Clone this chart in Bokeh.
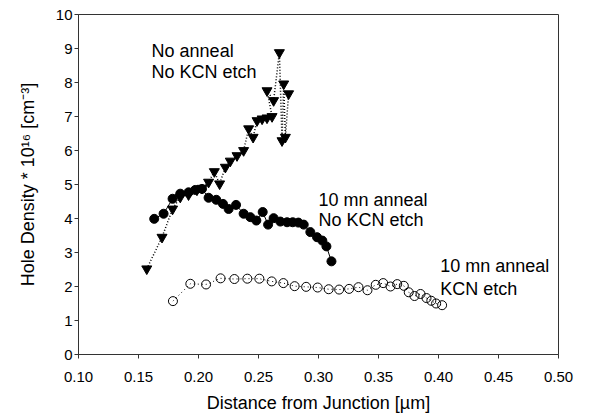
from bokeh.plotting import figure
from bokeh.models import FixedTicker, PrintfTickFormatter, ColumnDataSource
from bokeh.embed import file_html
from bokeh.resources import INLINE
from bokeh.core.properties import value

# "No anneal, No KCN etch" (filled inverted triangles, dotted line)
tri_x = [0.1569, 0.1696, 0.1784, 0.1848, 0.1917, 0.1987, 0.2029, 0.2084, 0.2132, 0.2176,
         0.2224, 0.2265, 0.2321, 0.2376, 0.2418, 0.2455, 0.2488, 0.2530, 0.2571, 0.2613,
         0.2571, 0.2626, 0.2674, 0.2696, 0.2710, 0.2724, 0.2751]
tri_y = [2.52, 3.45, 4.28, 4.63, 4.70, 4.84, 4.89, 5.07, 5.38, 5.02,
         5.51, 5.69, 5.85, 6.00, 6.64, 6.39, 6.88, 6.93, 6.96, 7.00,
         7.76, 7.47, 8.88, 6.29, 7.96, 6.39, 7.67]

# "10 mn anneal, No KCN etch" (filled circles, solid line)
fc_x = [0.1631, 0.1709, 0.1784, 0.1848, 0.1917, 0.1973, 0.2029, 0.2084, 0.2148, 0.2204,
        0.2251, 0.2313, 0.2376, 0.2432, 0.2482, 0.2535, 0.2580, 0.2626, 0.2682, 0.2738,
        0.2785, 0.2832, 0.2877, 0.2932, 0.2988, 0.3032, 0.3066, 0.3108]
fc_y = [3.99, 4.14, 4.58, 4.73, 4.77, 4.84, 4.87, 4.61, 4.55, 4.43,
        4.28, 4.40, 4.14, 4.04, 3.94, 4.19, 3.82, 4.01, 3.91, 3.89,
        3.89, 3.88, 3.82, 3.60, 3.45, 3.35, 3.18, 2.74]

# "10 mn anneal, KCN etch" (open circles, dotted line)
oc_x = [0.1787, 0.1932, 0.2063, 0.2184, 0.2299, 0.2407, 0.2507, 0.2610, 0.2707, 0.2801,
        0.2897, 0.2993, 0.3085, 0.3172, 0.3255, 0.3333, 0.3408, 0.3477, 0.3539, 0.3600,
        0.3656, 0.3711, 0.3752, 0.3800, 0.3850, 0.3900, 0.3940, 0.3980, 0.4030]
oc_y = [1.57, 2.08, 2.06, 2.24, 2.22, 2.23, 2.23, 2.15, 2.10, 2.01,
        1.99, 1.97, 1.92, 1.91, 1.93, 1.98, 1.89, 2.05, 2.10, 2.00,
        2.07, 2.02, 1.83, 1.72, 1.78, 1.66, 1.58, 1.50, 1.45]

x_ticks = [0.10, 0.15, 0.20, 0.25, 0.30, 0.35, 0.40, 0.45, 0.50]
y_ticks = [0, 1, 2, 3, 4, 5, 6, 7, 8, 9, 10]

label_text = ["No anneal", "No KCN etch", "10 mn anneal", "No KCN etch", "10 mn anneal", "KCN etch"]
label_x = [0.1609, 0.1609, 0.2999, 0.2999, 0.4014, 0.4014]
label_y = [8.94, 8.32, 4.55, 3.95, 2.59, 1.94]

x_title = "Distance from Junction [µm]"
y_title = "Hole Density * 10¹⁶ [cm⁻³]"

FONT = "Liberation Sans"
AX = "#333333"

p = figure(width=615, height=417, x_range=(0.10, 0.50), y_range=(0, 10),
           output_backend="svg", toolbar_location=None,
           min_border_left=78, min_border_right=57, min_border_top=14, min_border_bottom=63)
p.grid.visible = False
p.outline_line_color = AX
p.outline_line_width = 1
p.background_fill_color = "white"
p.border_fill_color = "white"

for ax in (p.xaxis[0], p.yaxis[0]):
    ax.axis_line_color = AX
    ax.major_tick_line_color = AX
    ax.minor_tick_line_color = None
    ax.major_tick_in = 0
    ax.major_tick_out = 4
    ax.major_label_text_font = FONT
    ax.major_label_text_font_size = "15px"
    ax.major_label_text_color = "black"
    ax.axis_label_text_font = FONT
    ax.axis_label_text_font_size = "18px"
    ax.axis_label_text_font_style = "normal"
    ax.axis_label_text_color = "black"

p.xaxis.ticker = FixedTicker(ticks=x_ticks)
p.xaxis.formatter = PrintfTickFormatter(format="%.2f")
p.xaxis.major_label_standoff = 13
p.xaxis.axis_label = x_title
p.xaxis.axis_label_standoff = 8

p.yaxis.ticker = FixedTicker(ticks=y_ticks)
p.yaxis.major_label_standoff = 2
p.yaxis.axis_label = y_title
p.yaxis.axis_label_standoff = 15

# lines
p.line(tri_x, tri_y, line_color="black", line_width=1.5, line_dash="1 2")
p.line(fc_x, fc_y, line_color="black", line_width=1)
p.line(oc_x, oc_y, line_color="black", line_width=1, line_dash="1 3")

# markers
p.scatter(oc_x, oc_y, marker="circle", size=9, fill_color=None, line_color="black", line_width=1)
p.scatter(fc_x, fc_y, marker="circle", size=9, fill_color="black", line_color="black")
p.scatter(tri_x, tri_y, marker="inverted_triangle", size=10, fill_color="black", line_color="black")

src = ColumnDataSource(dict(x=label_x, y=label_y, t=label_text))
p.text(x="x", y="y", text="t", source=src, text_font=value(FONT), text_font_size="18px",
       text_color="black", text_align="left", text_baseline="alphabetic")

open("out.html", "w").write(file_html(p, INLINE))
